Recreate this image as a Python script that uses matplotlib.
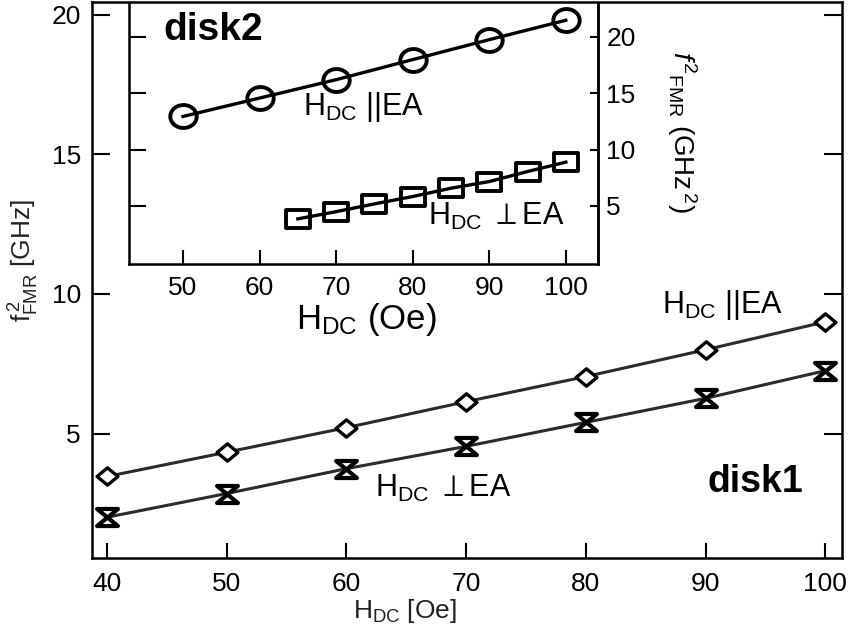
import matplotlib
matplotlib.use("Agg")
import matplotlib.pyplot as plt
from matplotlib.path import Path
from matplotlib.transforms import Affine2D

plt.rcParams["font.family"] = ["Liberation Sans", "DejaVu Sans"]
plt.rcParams["mathtext.fontset"] = "custom"
plt.rcParams["mathtext.rm"] = "Liberation Sans"
plt.rcParams["mathtext.it"] = "Liberation Sans:italic"
plt.rcParams["mathtext.bf"] = "Liberation Sans:bold"
plt.rcParams["mathtext.fallback"] = "stixsans"

# main plot: disk1
h_main = [40, 50, 60, 70, 80, 90, 100]
f2_par_main = [3.46, 4.33, 5.21, 6.14, 7.04, 8.0, 9.0]
f2_perp_main = [2.0, 2.85, 3.74, 4.54, 5.40, 6.26, 7.25]

# inset: disk2
h_in_par = [50, 60, 70, 80, 90, 100]
f2_par_in = [12.93, 14.56, 16.19, 17.97, 19.74, 21.46]
h_in_perp = [65, 70, 75, 80, 85, 90, 95, 100]
f2_perp_in = [3.85, 4.49, 5.18, 5.83, 6.57, 7.16, 8.05, 8.88]

main_xticks = [40, 50, 60, 70, 80, 90, 100]
main_yticks = [5, 10, 15, 20]
in_xticks = [50, 60, 70, 80, 90, 100]
in_yticks = [5, 10, 15, 20]

W, H = 854, 638

# custom markers (the original is a bit stretched sideways)
diamond = Path([(-1.2, 0), (0, 1), (1.2, 0), (0, -1), (-1.2, 0)],
               [Path.MOVETO, Path.LINETO, Path.LINETO, Path.LINETO, Path.CLOSEPOLY])
hourglass = Path([(-1.1, 0.9), (1.1, 0.9), (-1.1, -0.9), (1.1, -0.9), (-1.1, 0.9)],
                 [Path.MOVETO, Path.LINETO, Path.LINETO, Path.LINETO, Path.CLOSEPOLY])
ellipse = Path.unit_circle().transformed(Affine2D().scale(1.15, 1.0))
rect = Path([(-1.25, -1), (1.25, -1), (1.25, 1), (-1.25, 1), (-1.25, -1)],
            [Path.MOVETO, Path.LINETO, Path.LINETO, Path.LINETO, Path.CLOSEPOLY])


def px(x, y):
    return x / W, 1 - y / H


fig = plt.figure(figsize=(W / 100, H / 100), dpi=100)

ax = fig.add_axes([92 / W, 1 - 558 / H, (842 - 92) / W, (558 - 2) / H])
ax.plot(h_main, f2_par_main, color="#2b2b2b", lw=2.2, marker=diamond,
        ms=15, mfc="white", mec="black", mew=2.4, zorder=3)
ax.plot(h_main, f2_perp_main, color="#2b2b2b", lw=2.2, marker=hourglass,
        ms=15, mfc="none", mec="black", mew=3.0, zorder=3)
ax.set_xlim(38.75, 101.4)
ax.set_ylim(0.54, 20.46)
ax.set_xticks(main_xticks)
ax.set_yticks(main_yticks)
ax.tick_params(axis="x", direction="in", length=11, width=1.5, pad=10,
               labelsize=19, top=False)
ax.tick_params(axis="y", direction="in", length=13, width=1.5, pad=8,
               labelsize=19, right=True)
for s in ax.spines.values():
    s.set_linewidth(1.8)

# inset
axi = fig.add_axes([129 / W, 1 - 264 / H, (598 - 129) / W, (264 - 4) / H])
axi.plot(h_in_par, f2_par_in, color="black", lw=2.4, marker=ellipse,
         ms=19, mfc="none", mec="black", mew=2.8, zorder=3)
axi.plot(h_in_perp, f2_perp_in, color="black", lw=2.4, marker=rect,
         ms=17, mfc="none", mec="black", mew=2.8, zorder=3)
axi.set_xlim(42.95, 104.2)
axi.set_ylim(-0.15, 22.9)
axi.set_xticks(in_xticks)
axi.set_yticks(in_yticks)
axi.spines["top"].set_visible(False)
for s in ["left", "right", "bottom"]:
    axi.spines[s].set_linewidth(1.8)
axi.tick_params(axis="x", direction="in", length=10, width=1.5, pad=9,
                labelsize=19)
axi.tick_params(axis="y", direction="in", length=12, width=1.5, left=True,
                right=False, labelleft=False, labelright=False)
axr = axi.twinx()
axr.set_ylim(axi.get_ylim())
axr.set_yticks(in_yticks)
axr.spines["top"].set_visible(False)
axr.spines["right"].set_linewidth(1.8)
axr.tick_params(axis="y", direction="in", length=6, width=1.5, pad=6,
                labelsize=19)

# texts
fig.text(*px(163, 40), "disk2", fontsize=28, fontweight="bold", ha="left", va="baseline")
fig.text(*px(708, 492), "disk1", fontsize=27, fontweight="bold", ha="left", va="baseline")
fig.text(*px(303, 115), r"H$_{\rm DC}$ ||EA", fontsize=22, ha="left", va="baseline")
fig.text(*px(428, 225), r"H$_{\rm DC}$ $\perp$EA", fontsize=22, ha="left", va="baseline")
fig.text(*px(662, 313), r"H$_{\rm DC}$ ||EA", fontsize=22, ha="left", va="baseline")
fig.text(*px(375, 497), r"H$_{\rm DC}$ $\perp$EA", fontsize=22, ha="left", va="baseline")

fig.text(*px(366, 320), r"H$_{\rm DC}$ (Oe)", fontsize=25, ha="center", va="center")
fig.text(*px(682, 132), r"$\mathbf{\mathit{f}}^{\,2}{}_{\rm FMR}$ (GHz$^{\,2}$)",
         fontsize=20, ha="center", va="center", rotation=270)

fig.text(*px(405, 611), r"H$_{\rm DC}$ [Oe]", fontsize=19, ha="center",
         va="center", color="#222222")
fig.text(*px(24, 260), r"f$_{\rm FMR}^{\,2}$ [GHz]", fontsize=19, ha="center",
         va="center", rotation=90, color="#222222")

fig.savefig("out.png", dpi=100)
